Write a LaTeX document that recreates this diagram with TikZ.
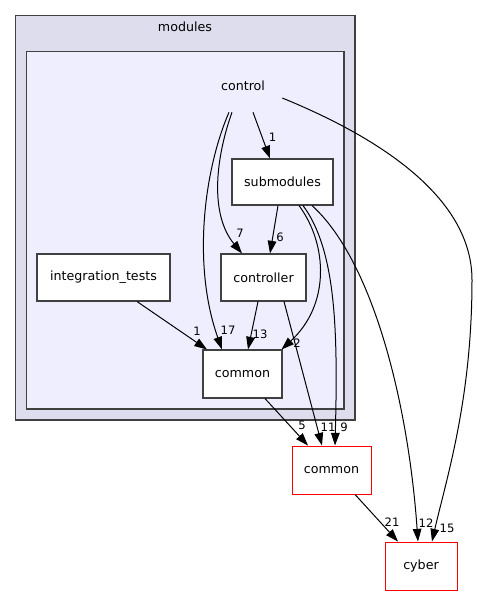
\documentclass[tikz,border=0pt]{standalone}
\usepackage{fontspec}
\setmainfont{DejaVu Sans}
\usetikzlibrary{arrows.meta,calc}
\definecolor{outerfill}{HTML}{DDDDEE}
\definecolor{innerfill}{HTML}{EEEEFF}
\definecolor{edgegray}{HTML}{404040}
\tikzset{
  box/.style={draw=edgegray, fill=white, line width=0.8pt, inner sep=0pt,
    font=\fontsize{9.5}{11}\selectfont},
  redbox/.style={box, draw=red, line width=0.7pt},
  dep/.style={draw=black, line width=0.75pt, -{Triangle[length=9.5pt,width=6.5pt]}},
  lbl/.style={font=\fontsize{8.7}{10}\selectfont, inner sep=0pt},
  cluster/.style={draw=edgegray, line width=0.9pt},
}
\begin{document}
\begin{tikzpicture}[x=0.75pt,y=-0.75pt]
\useasboundingbox (0,0) rectangle (477,596);
% clusters
\draw[cluster, fill=outerfill] (15.5,15.5) rectangle (355,420);
\node[font=\fontsize{9.5}{11}\selectfont] (modlbl) at (185,27) {modules};
\draw[cluster, fill=innerfill] (26.5,51.5) rectangle (344,409);
% nodes
\node[inner sep=0pt, minimum width=60pt, minimum height=36pt, font=\fontsize{9.5}{11}\selectfont] (ctrl) at (243,86) {control};
\node[box, minimum width=75.75pt, minimum height=34.5pt] (sub) at (282.5,182) {submodules};
\node[box, minimum width=63.75pt, minimum height=35.25pt] (ctl) at (263.5,277.5) {controller};
\node[box, minimum width=99.75pt, minimum height=35.25pt] (integ) at (103.5,277.5) {integration\_tests};
\node[box, minimum width=59.25pt, minimum height=36pt] (cin) at (242.5,374) {common};
\node[redbox, minimum width=59.25pt, minimum height=36pt] (cout) at (331.5,470) {common};
\node[redbox, minimum width=54pt, minimum height=36pt] (cyber) at (421,566) {cyber};
% edges
\draw[dep] ($(ctrl.south)+(10,2)$) -- ($(sub.north)+(-12.5,0)$);
\draw[dep] ($(ctrl.south)+(-11,2)$) .. controls (215,160) and (210,215) .. ($(ctl.north)+(-21.5,0)$);
\draw[dep] ($(ctrl.south)+(-14,2)$) .. controls (204,170) and (192,265) .. ($(cin.north)+(-20.5,0)$);
\draw[dep] ($(ctrl.east)+(-1,12)$) .. controls (385,140) and (472,200) .. (472,280)
  .. controls (472,400) and (446,480) .. ($(cyber.north)+(11,0)$);
\draw[dep] ($(sub.south)+(-4.5,0)$) -- ($(ctl.north)+(6.5,0)$);
\draw[dep] ($(sub.south)+(16.5,0)$) .. controls (328,245) and (330,305) .. ($(cin.north)+(39,0)$);
\draw[dep] ($(sub.south)+(20.5,0)$) .. controls (336,250) and (338,330) .. ($(cout.north)+(3.5,0)$);
\draw[dep] ($(sub.south)+(29.5,0)$) .. controls (372,260) and (408,400) .. ($(cyber.north)+(-3,0)$);
\draw[dep] ($(ctl.south)+(-5.5,0)$) -- ($(cin.north)+(5.5,0)$);
\draw[dep] ($(ctl.south)+(20.5,0)$) -- ($(cout.north)+(-9.5,0)$);
\draw[dep] ($(integ.south)+(33.5,0)$) -- ($(cin.north)+(-35.5,0)$);
\draw[dep] ($(cin.south)+(22.5,0)$) -- ($(cout.north)+(-23.5,0)$);
\draw[dep] ($(cout.south)+(23.5,0)$) -- ($(cyber.north)+(-23,0)$);
% edge labels
\node[lbl] (l1) at (272.5,137) {1};
\node[lbl] (l7) at (240,233) {7};
\node[lbl] (l6) at (280,237) {6};
\node[lbl] (l17) at (228,330) {17};
\node[lbl] (l13) at (260,334) {13};
\node[lbl] (li1) at (197,331) {1};
\node[lbl] (l2) at (297,343) {2};
\node[lbl] (l5) at (302,425) {5};
\node[lbl] (l11) at (328,427) {11};
\node[lbl] (l9) at (344,427.5) {9};
\node[lbl] (l21) at (392,522) {21};
\node[lbl] (l12) at (426,523) {12};
\node[lbl] (l15) at (447,528) {15};
\end{tikzpicture}
\end{document}
